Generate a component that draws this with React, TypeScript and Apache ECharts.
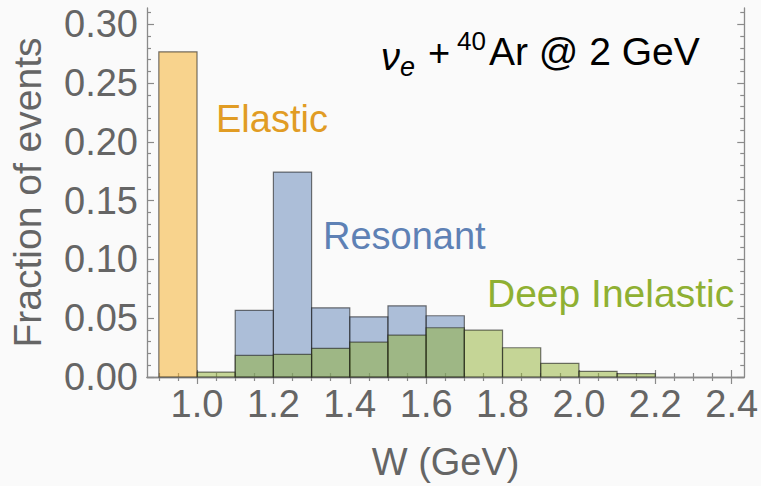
import React, { useEffect, useRef } from "react";
import * as echarts from "echarts";

// ---- data ----
const BIN_WIDTH = 0.1;
const elasticBins = [0.9];
const elasticValues = [0.2767];
const resonantBins = [1.1, 1.2, 1.3, 1.4, 1.5, 1.6];
const resonantValues = [0.0567, 0.1744, 0.0589, 0.0512, 0.0606, 0.0521];
const disBins = [1.0, 1.1, 1.2, 1.3, 1.4, 1.5, 1.6, 1.7, 1.8, 1.9, 2.0, 2.1];
const disValues = [0.0042, 0.0184, 0.0193, 0.0244, 0.0297, 0.0357, 0.0419, 0.0399, 0.0249, 0.0116, 0.0048, 0.0028];

const xMajorTicks = [1.0, 1.2, 1.4, 1.6, 1.8, 2.0, 2.2, 2.4];
const xMinorTicks = [0.9, 0.95, 1.05, 1.1, 1.15, 1.25, 1.3, 1.35, 1.45, 1.5, 1.55, 1.65, 1.7, 1.75, 1.85, 1.9, 1.95, 2.05, 2.1, 2.15, 2.25, 2.3, 2.35];
const yMajorTicks = [0, 0.05, 0.1, 0.15, 0.2, 0.25, 0.3];
const yMinorTicks = [0.01, 0.02, 0.03, 0.04, 0.06, 0.07, 0.08, 0.09, 0.11, 0.12, 0.13, 0.14, 0.16, 0.17, 0.18, 0.19, 0.21, 0.22, 0.23, 0.24, 0.26, 0.27, 0.28, 0.29, 0.31];

const X_MIN = 0.869;
const X_MAX = 2.433;
const Y_MIN = 0;
const Y_MAX = 0.314;

const FONT = "'Liberation Sans', Arial, sans-serif";
const GRAY = "#656565";
const FRAME = "#8a8a8a";

const toRows = (bins: number[], vals: number[]) => bins.map((b, i) => [b, +(b + BIN_WIDTH).toFixed(2), vals[i]]);

const histSeries = (name: string, bins: number[], vals: number[], fill: string) => ({
  type: "custom",
  name,
  xAxisIndex: 0,
  yAxisIndex: 0,
  data: toRows(bins, vals),
  encode: { x: [0, 1], y: 2 },
  renderItem: (params: any, api: any) => {
    const x0 = api.value(0);
    const x1 = api.value(1);
    const v = api.value(2);
    const p0 = api.coord([x0, v]);
    const p1 = api.coord([x1, 0]);
    return {
      type: "rect",
      shape: { x: p0[0], y: p0[1], width: p1[0] - p0[0], height: p1[1] - p0[1] },
      style: { fill, stroke: "rgba(30,30,30,0.6)", lineWidth: 1.2 },
    };
  },
});

const xAxisBase = {
  type: "value",
  min: X_MIN,
  max: X_MAX,
  splitLine: { show: false },
};
const yAxisBase = {
  type: "value",
  min: Y_MIN,
  max: Y_MAX,
  splitLine: { show: false },
};

export default function App() {
  const ref = useRef<HTMLDivElement>(null);
  useEffect(() => {
    if (!ref.current) return;
    const chart = echarts.init(ref.current, undefined, { renderer: "svg" });
    const axisLine = { show: true, lineStyle: { color: FRAME, width: 1.3 } };
    const majorTick = (vals: number[]) => ({ show: true, inside: true, length: 7, customValues: vals, lineStyle: { color: FRAME, width: 1.2 } });
    const minorTick = (vals: number[]) => ({ show: true, inside: true, length: 4, customValues: vals, lineStyle: { color: FRAME, width: 1.2 } });
    const option: any = {
      animation: false,
      backgroundColor: "#fafafa",
      grid: { left: 144, right: 15, top: 8, bottom: 106, containLabel: false },
      xAxis: [
        {
          ...xAxisBase,
          position: "bottom",
          axisLine,
          axisTick: majorTick(xMajorTicks),
          axisLabel: {
            show: true,
            customValues: xMajorTicks,
            formatter: (v: number) => v.toFixed(1),
            color: GRAY,
            fontSize: 38,
            fontFamily: FONT,
            margin: 8,
          },
          name: "W (GeV)",
          nameLocation: "middle",
          nameGap: 66,
          nameTextStyle: { color: GRAY, fontSize: 38, fontFamily: FONT },
        },
        { ...xAxisBase, position: "bottom", axisLine: { show: false }, axisTick: minorTick(xMinorTicks), axisLabel: { show: false } },
        { ...xAxisBase, position: "top", axisLine, axisTick: majorTick(xMajorTicks), axisLabel: { show: false } },
        { ...xAxisBase, position: "top", axisLine: { show: false }, axisTick: minorTick(xMinorTicks), axisLabel: { show: false } },
      ],
      yAxis: [
        {
          ...yAxisBase,
          position: "left",
          axisLine,
          axisTick: majorTick(yMajorTicks),
          axisLabel: {
            show: true,
            customValues: yMajorTicks,
            formatter: (v: number) => v.toFixed(2),
            color: GRAY,
            fontSize: 38,
            fontFamily: FONT,
            margin: 9,
          },
          name: "Fraction of events",
          nameLocation: "middle",
          nameGap: 100,
          nameTextStyle: { color: GRAY, fontSize: 39, fontFamily: FONT },
        },
        { ...yAxisBase, position: "left", axisLine: { show: false }, axisTick: minorTick(yMinorTicks), axisLabel: { show: false } },
        { ...yAxisBase, position: "right", axisLine, axisTick: majorTick(yMajorTicks), axisLabel: { show: false } },
        { ...yAxisBase, position: "right", axisLine: { show: false }, axisTick: minorTick(yMinorTicks), axisLabel: { show: false } },
      ],
      series: [
        histSeries("Resonant", resonantBins, resonantValues, "rgba(94,129,181,0.5)"),
        histSeries("Deep Inelastic", disBins, disValues, "rgba(143,176,50,0.5)"),
        histSeries("Elastic", elasticBins, elasticValues, "rgba(245,171,32,0.5)"),
      ],
      graphic: [
        { type: "text", left: 216, top: 100, style: { text: "Elastic", fill: "#e19c24", font: `38px ${FONT}` } },
        { type: "text", left: 323, top: 217, style: { text: "Resonant", fill: "#5e81b5", font: `38px ${FONT}` } },
        { type: "text", left: 487, top: 274, style: { text: "Deep Inelastic", fill: "#8fb032", font: `39px ${FONT}` } },
        { type: "text", left: 381, top: 38, style: { text: "ν", fill: "#000", font: `italic 38px ${FONT}` } },
        { type: "text", left: 400, top: 53, style: { text: "e", fill: "#000", font: `italic 27px ${FONT}` } },
        { type: "text", left: 428, top: 34, style: { text: "+", fill: "#000", font: `38px ${FONT}` } },
        { type: "text", left: 457, top: 28, style: { text: "40", fill: "#000", font: `26px ${FONT}` } },
        { type: "text", left: 489, top: 32, style: { text: "Ar @ 2 GeV", fill: "#000", font: `39px ${FONT}` } },
      ],
    };
    chart.setOption(option);
    return () => chart.dispose();
  }, []);
  return <div ref={ref} style={{ position: "fixed", left: 0, top: 0, width: 761, height: 486 }} />;
}
